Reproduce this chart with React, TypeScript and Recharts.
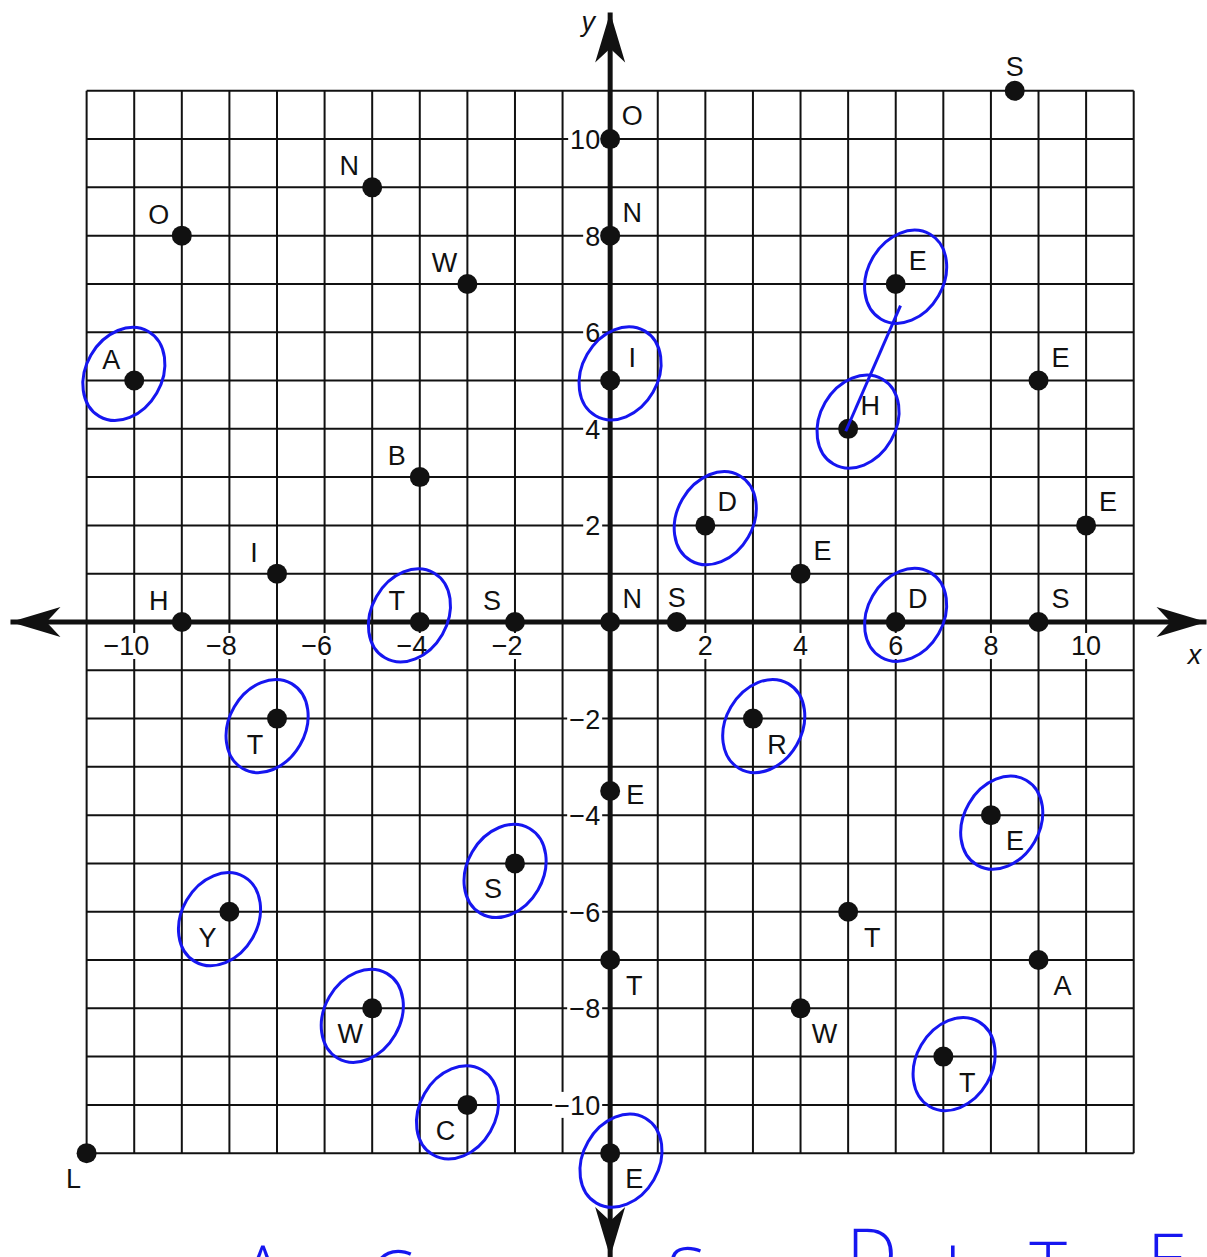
import React from 'react';
import { ScatterChart, Scatter, XAxis, YAxis } from 'recharts';

const W = 1207;
const H = 1257;
const FONT = '"Liberation Sans", Arial, Helvetica, sans-serif';
const INK = '#111';
const BLUE = '#1616f0';

// the printed grid: one line per unit from -11 to 11
const gridValues = [-11, -10, -9, -8, -7, -6, -5, -4, -3, -2, -1, 0, 1, 2, 3, 4, 5, 6, 7, 8, 9, 10, 11];
const gridMin = -11;
const gridMax = 11;

const xTicks = [-10, -8, -6, -4, -2, 2, 4, 6, 8, 10];
const yTicks = [10, 8, 6, 4, 2, -2, -4, -6, -8, -10];

// where the arrow tips of the two axes sit
const xAxisEnds = [-12.6, 12.53];
const yAxisEnds = [12.62, -13.15];

// plotted points
const pointLabels = ['S', 'O', 'N', 'I', 'N', 'O', 'W', 'A', 'B', 'I', 'H', 'T', 'S', 'N', 'S', 'D', 'E', 'D', 'S', 'E', 'E', 'H', 'E', 'T', 'E', 'R', 'E', 'S', 'Y', 'T', 'T', 'A', 'W', 'W', 'T', 'C', 'E', 'L'];
const pointX = [8.5, 0, 0, 0, -5, -9, -3, -10, -4, -7, -9, -4, -2, 0, 1.4, 2, 4, 6, 9, 6, 9, 5, 10, -7, 0, 3, 8, -2, -8, 5, 0, 9, -5, 4, 7, -3, 0, -11];
const pointY = [11, 10, 8, 5, 9, 8, 7, 5, 3, 1, 0, 0, 0, 0, 0, 2, 1, 0, 0, 7, 5, 4, 2, -2, -3.5, -2, -4, -5, -6, -6, -7, -7, -8, -8, -9, -10, -11, -11];
const labelSide = ['n', 'ne', 'ne', 'ne', 'nw', 'nw', 'nw', 'nw', 'nw', 'nw', 'nw', 'nw', 'nw', 'ne', 'n', 'ne', 'ne', 'ne', 'ne', 'ne', 'ne', 'ne', 'ne', 'sw', 'e', 'se', 'se', 'sw', 'sw', 'se', 'se', 'se', 'sw', 'se', 'se', 'sw', 'se', 'ssw'];
// hand-drawn blue rings
const circled = [0, 0, 0, 1, 0, 0, 0, 1, 0, 0, 0, 1, 0, 0, 0, 1, 0, 1, 0, 1, 0, 1, 0, 1, 0, 1, 1, 1, 1, 0, 0, 0, 1, 0, 1, 1, 1, 0];

// blue stroke joining the E ring to H
const linkLine = [{ x: 6.1, y: 6.55 }, { x: 4.95, y: 3.95 }];

// blue answer letters at the foot of the page (mostly cut off)
const answerLetters = ['A', 'C', 'S', 'D', 'I', 'T', 'E'];
const answerX = [-7.3, -4.6, 1.6, 5.5, 7.2, 9.2, 11.7];
const answerTop = [-12.9, -13.0, -12.95, -12.55, -12.9, -12.82, -12.65];

const sideOffset: Record<string, [number, number]> = {
  n: [0, -25],
  ne: [22, -24],
  nw: [-23, -22],
  se: [24, 25],
  sw: [-22, 25],
  e: [25, 3],
  ssw: [-13, 25],
};

const pointData = pointLabels.map((label, i) => ({ x: pointX[i], y: pointY[i], label, side: labelSide[i] }));
const circledData = pointData.filter((_, i) => circled[i] === 1);
const xTickData = xTicks.map(v => ({ x: v, y: 0, v }));
const yTickData = yTicks.map(v => ({ x: 0, y: v, v }));
const xAxisData = [
  { x: xAxisEnds[0], y: 0, dir: 'left' },
  { x: xAxisEnds[1], y: 0, dir: 'right', name: 'x' },
];
const yAxisData = [
  { x: 0, y: yAxisEnds[0], dir: 'up', name: 'y' },
  { x: 0, y: yAxisEnds[1], dir: 'down' },
];
const answerData = answerLetters.map((label, i) => ({ x: answerX[i], y: answerTop[i], label }));

const noShape = () => <g />;

const tickText = (v: number) => (v < 0 ? '\u2212' : '') + Math.abs(v);
const textWidth = (v: number) => String(Math.abs(v)).length * 15 + (v < 0 ? 16 : 0);

const XTickShape = (props: any) => {
  const { cx, cy, payload } = props;
  const digits = String(Math.abs(payload.v)).length;
  const right = cx + digits * 7.5;
  const w = textWidth(payload.v);
  return (
    <g>
      <rect x={right - w - 2} y={cy + 11} width={w + 4} height={26} fill="#fff" />
      <text x={right} y={cy + 33} textAnchor="end" fontFamily={FONT} fontSize={27} fill={INK}>{tickText(payload.v)}</text>
    </g>
  );
};

const YTickShape = (props: any) => {
  const { cx, cy, payload } = props;
  const right = cx - 10;
  const w = textWidth(payload.v);
  return (
    <g>
      <rect x={right - w - 2} y={cy - 13} width={w + 4} height={26} fill="#fff" />
      <text x={right} y={cy + 10} textAnchor="end" fontFamily={FONT} fontSize={27} fill={INK}>{tickText(payload.v)}</text>
    </g>
  );
};

const dirVec: Record<string, [number, number]> = { left: [-1, 0], right: [1, 0], up: [0, -1], down: [0, 1] };

const ArrowShape = (props: any) => {
  const { cx, cy, payload } = props;
  const [ux, uy] = dirVec[payload.dir];
  const len = 50;
  const half = 15;
  const notch = 36;
  const bx = cx - ux * len;
  const by = cy - uy * len;
  const nx = cx - ux * notch;
  const ny = cy - uy * notch;
  const px = -uy;
  const py = ux;
  const pts = `${cx},${cy} ${bx + px * half},${by + py * half} ${nx},${ny} ${bx - px * half},${by - py * half}`;
  return (
    <g>
      <polygon points={pts} fill={INK} />
      {payload.name === 'y' && (
        <text x={cx - 22} y={cy + 18} textAnchor="middle" fontFamily={FONT} fontStyle="italic" fontSize={27} fill={INK}>y</text>
      )}
      {payload.name === 'x' && (
        <text x={cx - 12} y={cy + 42} textAnchor="middle" fontFamily={FONT} fontStyle="italic" fontSize={27} fill={INK}>x</text>
      )}
    </g>
  );
};

const PointShape = (props: any) => {
  const { cx, cy, payload } = props;
  const [dx, dy] = sideOffset[payload.side];
  return (
    <g>
      <circle cx={cx} cy={cy} r={10} fill={INK} />
      <text x={cx + dx} y={cy + dy + 10} textAnchor="middle" fontFamily={FONT} fontSize={27} fill={INK}>{payload.label}</text>
    </g>
  );
};

const RingShape = (props: any) => {
  const { cx, cy, payload } = props;
  const [dx, dy] = sideOffset[payload.side];
  const ex = cx + dx * 0.45;
  const ey = cy + dy * 0.3;
  return (
    <ellipse cx={ex} cy={ey} rx={38} ry={49} transform={`rotate(30 ${ex} ${ey})`} fill="none" stroke={BLUE} strokeWidth={3} />
  );
};

const AnswerShape = (props: any) => {
  const { cx, cy, payload } = props;
  return (
    <text x={cx} y={cy + 52} textAnchor="middle" fontFamily='"Open Sans", "DejaVu Sans", sans-serif' fontWeight={300} fontSize={72} fill={BLUE}>{payload.label}</text>
  );
};

export default function App() {
  return (
    <div style={{ position: 'absolute', left: 0, top: 0, width: W, height: H, background: '#fff' }}>
      <ScatterChart width={W} height={H} margin={{ top: 0, right: 0, bottom: 0, left: 0 }}>
        <XAxis type="number" dataKey="x" domain={[-12.82, 12.54]} allowDataOverflow hide />
        <YAxis type="number" dataKey="y" domain={[-13.15, 12.88]} allowDataOverflow hide />

        {gridValues.map(v => (
          <Scatter key={'h' + v} data={[{ x: gridMin, y: v }, { x: gridMax, y: v }]} line={{ stroke: INK, strokeWidth: 2 }} shape={noShape} isAnimationActive={false} />
        ))}
        {gridValues.map(v => (
          <Scatter key={'v' + v} data={[{ x: v, y: gridMin }, { x: v, y: gridMax }]} line={{ stroke: INK, strokeWidth: 2 }} shape={noShape} isAnimationActive={false} />
        ))}

        <Scatter data={xTickData} shape={XTickShape} isAnimationActive={false} />
        <Scatter data={yTickData} shape={YTickShape} isAnimationActive={false} />

        <Scatter data={xAxisData} line={{ stroke: INK, strokeWidth: 5 }} shape={ArrowShape} isAnimationActive={false} />
        <Scatter data={yAxisData} line={{ stroke: INK, strokeWidth: 5 }} shape={ArrowShape} isAnimationActive={false} />

        <Scatter data={pointData} shape={PointShape} isAnimationActive={false} />

        <Scatter data={circledData} shape={RingShape} isAnimationActive={false} />
        <Scatter data={linkLine} line={{ stroke: BLUE, strokeWidth: 3 }} shape={noShape} isAnimationActive={false} />
        <Scatter data={answerData} shape={AnswerShape} isAnimationActive={false} />
      </ScatterChart>
    </div>
  );
}
